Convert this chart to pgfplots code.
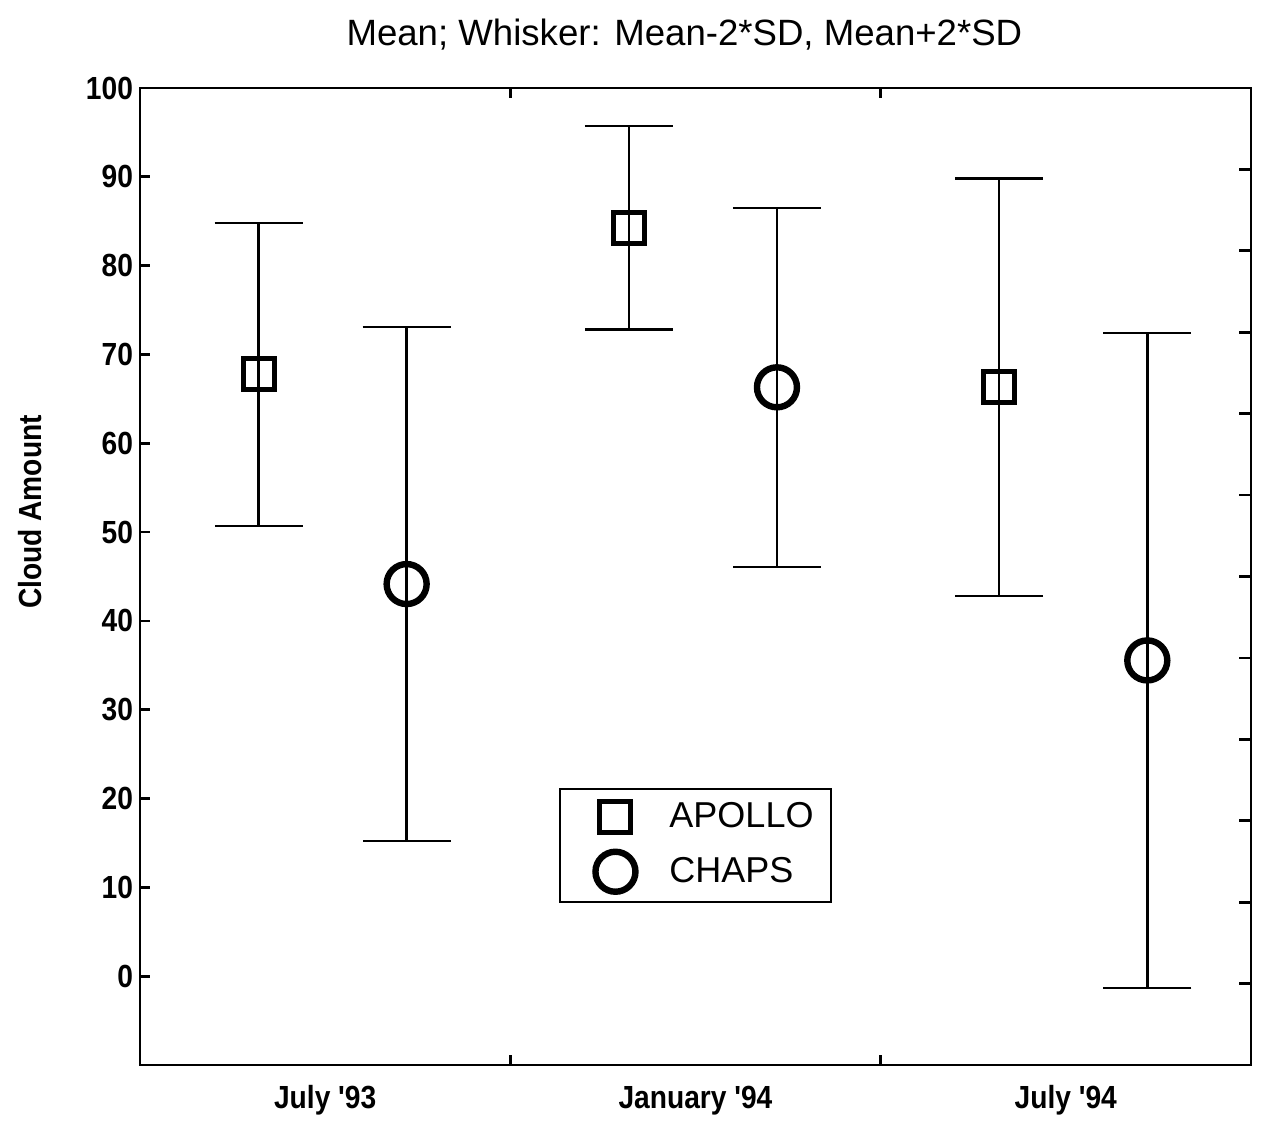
\documentclass[border=0pt]{standalone}
\usepackage{pgfplots}
\pgfplotsset{compat=1.18}
\usepackage{pgfplotstable}
\usepackage{fontspec}
\setmainfont{Liberation Sans}
\newfontfamily\labfont[FakeStretch=0.88,Ligatures=ResetAll]{Liberation Sans Bold}

% mean and 2*SD half-width for each period
\pgfplotstableread{
x     mean   err
-0.18 67.75  17.05
0.82  84.25  11.45
1.82  66.30  23.50
}\apollo
\pgfplotstableread{
x     mean   err
0.22  44.15  28.95
1.22  66.30  20.20
2.22  35.55  36.85
}\chaps

\pgfplotsset{
  whisker/.style={
    error bars/y dir=both, error bars/y explicit,
    error bars/error bar style={line width=1.2pt, black},
    error bars/error mark options={rotate=90, mark size=22pt, line width=1.2pt, black},
  },
}

\begin{document}
\begin{tikzpicture}
\useasboundingbox (-70pt,-28pt) rectangle (567.5pt,532.5pt);
\begin{axis}[
  width=555.5pt, height=488.5pt, scale only axis,
  xmin=-0.5, xmax=2.5, ymin=-10, ymax=100,
  axis line style={line width=1.4pt},
  tick style={line width=1.4pt, black},
  tick align=inside, major tick length=5pt,
  xtick={0.5,1.5}, xticklabels={},
  extra x ticks={0,1,2},
  extra x tick labels={July '93, January '94, July '94},
  extra x tick style={major tick length=0pt,
    tick label style={anchor=base, yshift=-21.5pt}},
  ytick={0,10,...,100}, ytick pos=left,
  /pgf/number format/assume math mode=true,
  ticklabel style={font={\fontsize{16}{18}\labfont}},
  ylabel={Cloud Amount},
  every axis y label/.style={at={(axis description cs:-0.099,0.566)},
    rotate=90, anchor=center, font={\fontsize{16}{18}\labfont}},
  title={Mean; Whisker: Mean-2*SD, Mean+2*SD},
  every axis title/.style={at={(0.49,1)}, anchor=base, yshift=21pt,
    font={\fontsize{18.3}{20}\selectfont}},
  legend style={at={(0.5,0.225)}, anchor=center, draw=black,
    line width=1pt, font={\fontsize{18}{20}\selectfont},
    inner xsep=6.5pt, inner ysep=5pt, row sep=8.5pt},
  legend cell align=left,
  legend image code/.code={%
    \path (-20.5pt,0pt) (24.5pt,0pt);
    \draw[mark repeat=2,mark phase=2,#1] plot coordinates {(-1pt,0pt) (0pt,0pt) (1pt,0pt)};},
]
\addplot[only marks, black, mark=square, mark size=7.75pt,
  mark options={line width=2.5pt, fill=white}, whisker]
  table[x=x, y=mean, y error=err] {\apollo};
\addlegendentry{APOLLO}
\addplot[only marks, black, mark=o, mark size=10pt,
  mark options={line width=3.2pt, fill=white}, whisker]
  table[x=x, y=mean, y error=err] {\chaps};
\addlegendentry{CHAPS}
\end{axis}
% denser unlabelled ticks along the right border
\begin{axis}[
  width=555.5pt, height=488.5pt, scale only axis,
  xmin=0, xmax=1, ymin=0, ymax=12,
  axis line style={line width=1.4pt},
  tick style={line width=1.4pt, black},
  tick align=inside, major tick length=6pt,
  xtick=\empty, ytick={1,...,11}, yticklabels={}, ytick pos=right,
]
\end{axis}
\end{tikzpicture}
\end{document}
